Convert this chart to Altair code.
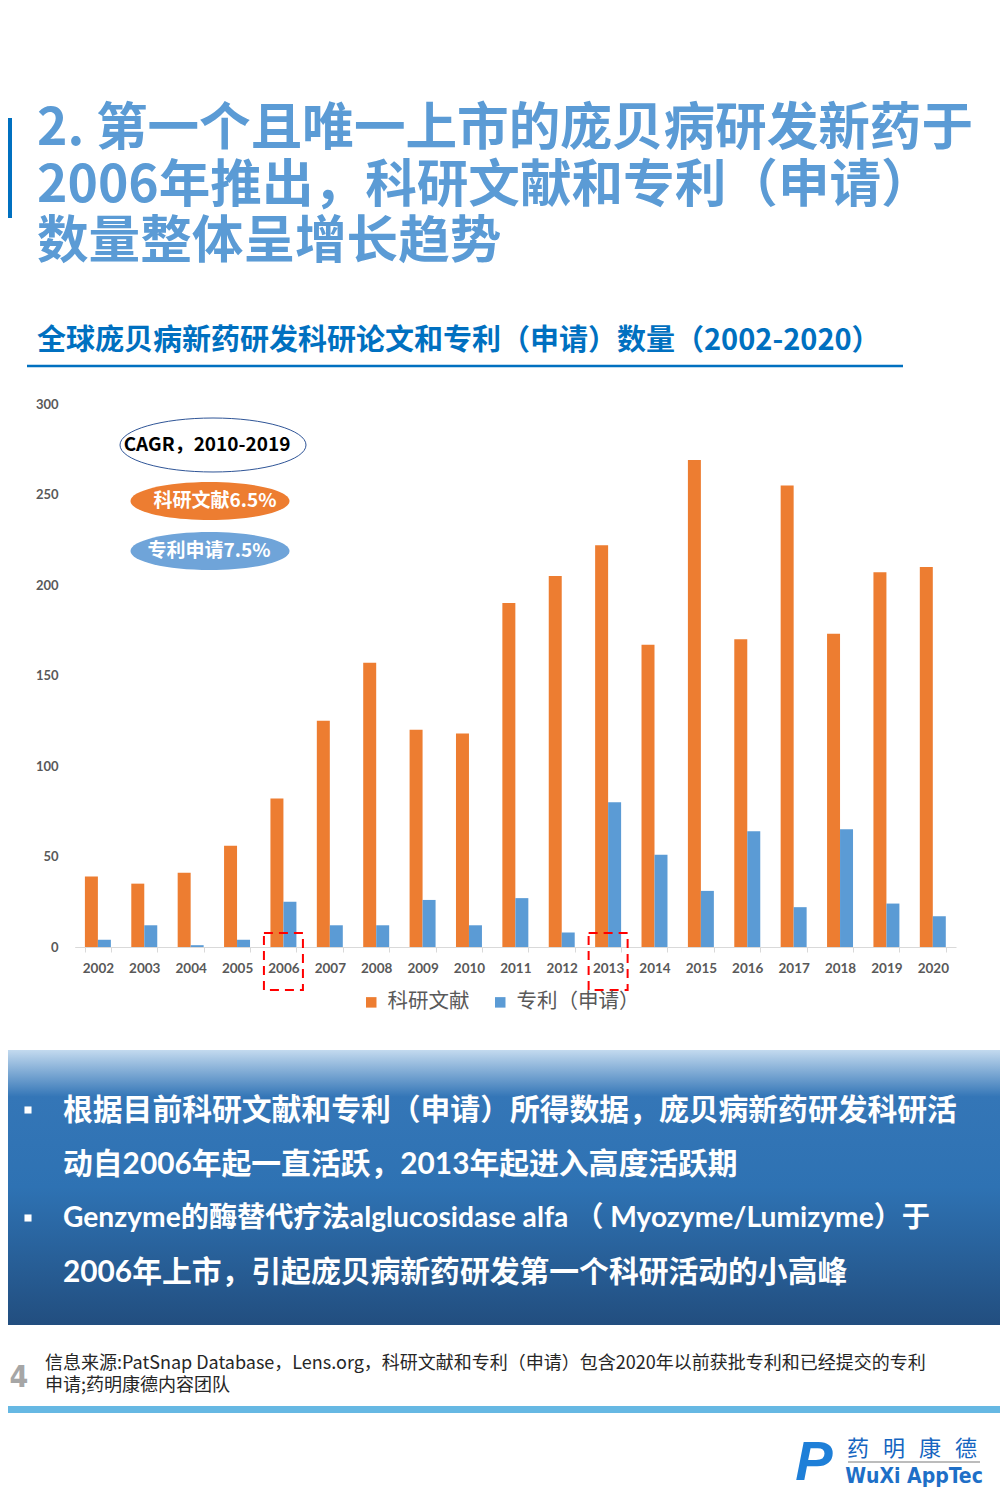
import altair as alt
import pandas as pd

# ---------------- data ----------------
years = [str(y) for y in range(2002, 2021)]
papers = [39, 35, 41, 56, 82, 125, 157, 120, 118, 190, 205, 222, 167, 269, 170, 255, 173, 207, 210]
patents = [4, 12, 1, 4, 25, 12, 12, 26, 12, 27, 8, 80, 51, 31, 64, 22, 65, 24, 17]
series_names = ["科研文献", "专利（申请）"]
series_colors = ["#ED7D31", "#5B9BD5"]
highlight_years = ["2006", "2013"]
y_ticks = [0, 50, 100, 150, 200, 250, 300]

title_lines = ["2. 第一个且唯一上市的庞贝病研发新药于",
               "2006年推出，科研文献和专利（申请）",
               "数量整体呈增长趋势"]
subtitle = "全球庞贝病新药研发科研论文和专利（申请）数量（2002-2020）"
cagr_title = "CAGR，2010-2019"
cagr_papers = "科研文献6.5%"
cagr_patents = "专利申请7.5%"
bullet_lines = ["根据目前科研文献和专利（申请）所得数据，庞贝病新药研发科研活",
                "动自2006年起一直活跃，2013年起进入高度活跃期",
                "Genzyme的酶替代疗法alglucosidase alfa （ Myozyme/Lumizyme）于",
                "2006年上市，引起庞贝病新药研发第一个科研活动的小高峰"]
bullet_sizes = [29.8, 29.8, 28.2, 29.8]
source_lines = ["信息来源:PatSnap Database，Lens.org，科研文献和专利（申请）包含2020年以前获批专利和已经提交的专利",
                "申请;药明康德内容团队"]
page_no = "4"
logo_cn = ["药", "明", "康", "德"]
logo_en = "WuXi AppTec"

df = pd.DataFrame({
    "year": years * 2,
    "series": [series_names[0]] * len(years) + [series_names[1]] * len(years),
    "value": papers + patents,
})
one = pd.DataFrame({"k": [0]})

W, H = 992, 1490
CJK = "Noto Sans CJK SC"
MIX = "Lato, Noto Sans CJK SC"
NARROW = "Liberation Sans Narrow, DejaVu Sans Condensed, sans-serif"


def txt(s, x, y, size, color, weight="normal", align="left", font=CJK, baseline="middle", **kw):
    return alt.Chart(one).mark_text(text=s, fontSize=size, color=color, fontWeight=weight,
                                    align=align, baseline=baseline, font=font, **kw).encode(
        x=alt.value(x), y=alt.value(y))


def ellipse_path(r):
    k = 0.5523
    return (f"M 1 0 C 1 {k*r:.4f} {k:.4f} {r:.4f} 0 {r:.4f} "
            f"C {-k:.4f} {r:.4f} -1 {k*r:.4f} -1 0 "
            f"C -1 {-k*r:.4f} {-k:.4f} {-r:.4f} 0 {-r:.4f} "
            f"C {k:.4f} {-r:.4f} 1 {-k*r:.4f} 1 0 Z")


# ---------------- background pieces ----------------
accent = alt.Chart(one).mark_rect(fill="#0070C0").encode(
    x=alt.value(0), x2=alt.value(4), y=alt.value(110), y2=alt.value(210))

underline = alt.Chart(one).mark_rule(color="#0070C0", strokeWidth=2.5).encode(
    x=alt.value(19), x2=alt.value(895), y=alt.value(358))

band = alt.Chart(one).mark_rect(fill=alt.LinearGradient(
    gradient="linear", x1=0, x2=0, y1=0, y2=1,
    stops=[alt.GradientStop(color="#C3DAEF", offset=0),
           alt.GradientStop(color="#3476B7", offset=0.17),
           alt.GradientStop(color="#2E72B3", offset=0.5),
           alt.GradientStop(color="#224E7F", offset=1)])).encode(
    x=alt.value(0), x2=alt.value(W), y=alt.value(1042), y2=alt.value(1317))

footer_line = alt.Chart(one).mark_rect(fill="#66B8E3").encode(
    x=alt.value(0), x2=alt.value(W), y=alt.value(1398), y2=alt.value(1405))

logo_rule = alt.Chart(one).mark_rule(color="#A6A6A6", strokeWidth=1.5).encode(
    x=alt.value(840), x2=alt.value(972), y=alt.value(1454))

# ---------------- chart ----------------
x_scale = alt.Scale(domain=years, range=[66.7, 948], paddingInner=0.44, paddingOuter=0.22)
y_scale = alt.Scale(domain=[0, 300], range=[939, 396])

bars = alt.Chart(df).mark_bar().encode(
    x=alt.X("year:N", scale=x_scale,
            axis=alt.Axis(title=None, orient="bottom", offset=-(H - 939), domainColor="#D9D9D9",
                          tickColor="#D9D9D9", tickBand="extent", tickSize=5, labelFont="Lato",
                          labelFontWeight="bold", labelFontSize=13.5, labelColor="#595959",
                          labelPadding=9, labelAngle=0, grid=False)),
    xOffset=alt.XOffset("series:N", sort=series_names, scale=alt.Scale(paddingInner=0, paddingOuter=0)),
    y=alt.Y("value:Q", scale=y_scale,
            axis=alt.Axis(title=None, orient="left", offset=-50, values=y_ticks, domain=False,
                          ticks=False, grid=False, labelFont="Lato", labelFontWeight="bold",
                          labelFontSize=13, labelColor="#595959", labelPadding=0)),
    color=alt.Color("series:N", sort=series_names,
                    scale=alt.Scale(domain=series_names, range=series_colors),
                    legend=alt.Legend(title=None, orient="none", legendX=353, legendY=984,
                                      direction="horizontal", symbolType="square", symbolSize=110,
                                      symbolStrokeWidth=0, labelFont=CJK, labelFontSize=20.5,
                                      labelColor="#595959", labelOffset=6, columnPadding=20,
                                      padding=0)),
)

boxes = alt.Chart(pd.DataFrame({"year": highlight_years})).mark_bar(
    filled=False, stroke="#FF0000", strokeWidth=2, strokeDash=[9, 6], width=39).encode(
    x=alt.X("year:N"), y=alt.value(925), y2=alt.value(982))

# ---------------- CAGR ellipses ----------------
ell1 = alt.Chart(one).mark_point(shape=ellipse_path(54 / 186), size=186 ** 2, filled=True,
                                 fill="white", stroke="#2F5597", strokeWidth=1, opacity=1).encode(
    x=alt.value(205), y=alt.value(437))
ell2 = alt.Chart(one).mark_point(shape=ellipse_path(38 / 159), size=159 ** 2, filled=True,
                                 fill="#ED7D31", strokeWidth=0, opacity=1).encode(
    x=alt.value(202), y=alt.value(493))
ell3 = alt.Chart(one).mark_point(shape=ellipse_path(38 / 159), size=159 ** 2, filled=True,
                                 fill="#6FA4D9", strokeWidth=0, opacity=1).encode(
    x=alt.value(202), y=alt.value(543))

# ---------------- texts ----------------
texts = []
for i, line in enumerate(title_lines):
    texts.append(txt(line, 29, 122 + i * 56.5, 51.6, "#5B9BD5", weight="bold"))
texts.append(txt(subtitle, 29, 333, 29, "#0070C0", weight="bold"))
texts.append(txt(cagr_title, 199, 437, 19, "#000000", weight="bold", align="center"))
texts.append(txt(cagr_papers, 207, 493, 19, "#FFFFFF", weight="bold", align="center"))
texts.append(txt(cagr_patents, 201, 543, 19, "#FFFFFF", weight="bold", align="center"))

for i, line in enumerate(bullet_lines):
    texts.append(txt(line, 55, 1103 + i * 54, bullet_sizes[i], "#FFFFFF", weight="bold", font=MIX))
bullet1 = alt.Chart(one).mark_point(
    shape="square", size=50, filled=True, fill="white", opacity=1).encode(
    x=alt.value(20), y=alt.value(1102))
bullet2 = alt.Chart(one).mark_point(
    shape="square", size=50, filled=True, fill="white", opacity=1).encode(
    x=alt.value(20), y=alt.value(1210))

texts.append(txt(page_no, 11, 1370, 30, "#A6A6A6", weight="bold", align="center", font=NARROW))
for i, line in enumerate(source_lines):
    texts.append(txt(line, 37, 1356 + i * 22, 18, "#262626"))

for i, ch in enumerate(logo_cn):
    texts.append(txt(ch, 850 + i * 36, 1441, 22, "#1565C0", align="center"))
texts.append(txt(logo_en, 906, 1469, 21, "#1E6FC7", weight="bold", align="center", font=NARROW))
texts.append(txt("P", 806, 1455, 56, "#1E7FD8", weight="bold", align="center",
                 font="Liberation Sans, sans-serif", fontStyle="italic"))

chart = alt.layer(band, accent, underline, footer_line, logo_rule, bars, boxes,
                  ell1, ell2, ell3, bullet1, bullet2, *texts).properties(
    width=W, height=H, padding=0, background="white",
    autosize=alt.AutoSizeParams(type="none")
).configure_view(stroke=None)

chart.save("out.html", embed_options={"renderer": "svg", "actions": False})
